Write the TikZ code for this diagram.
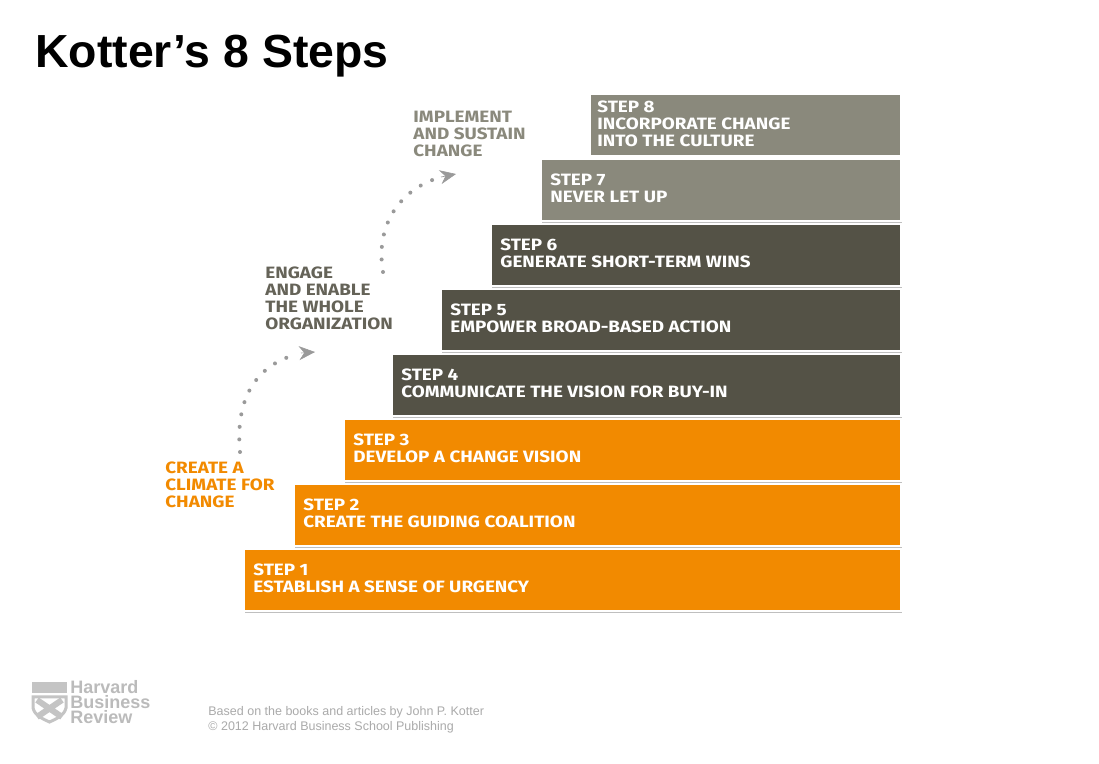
\documentclass[tikz,border=0pt]{standalone}
\usepackage{fontspec}
\setmainfont{Liberation Sans}
\newfontfamily\barfont[FakeStretch=1.15]{Fira Sans}
\usetikzlibrary{arrows.meta,positioning}
\definecolor{hbrorange}{HTML}{F28A00}
\definecolor{hbrdark}{HTML}{545246}
\definecolor{hbrlight}{HTML}{8A897C}
\definecolor{hbrdot}{HTML}{9A9A9A}
\definecolor{hbrfoot}{HTML}{AAAAAA}
\tikzset{
  stepbar/.style={draw=white,line width=1pt,anchor=north west,inner sep=0pt,
    minimum height=31pt},
  steptext/.style={anchor=north west,text=white,align=left,inner sep=0pt,
    font=\barfont\bfseries\fontsize{8.2}{8.5}\selectfont},
  phase/.style={anchor=north west,align=left,inner sep=0pt,
    font=\barfont\bfseries\fontsize{8.2}{8.5}\selectfont},
  dotpath/.style={hbrdot,line width=2pt,dash pattern=on 0pt off 6.3pt,line cap=round},
  dottip/.style={-{Stealth[length=8pt,width=7pt,fill=hbrdot]},hbrdot,line width=0.3pt}
}
\begin{document}
\begin{tikzpicture}[x=0.5pt,y=-0.5pt]
  \useasboundingbox[fill=white] (0,0) rectangle (1099,764);
  % % ----- title ----- % %
  \node[anchor=base west,inner sep=0pt,font=\bfseries\fontsize{23.2}{26}\selectfont] (title) at (35,68) {Kotter’s 8 Steps};
  % % ----- bars ----- % %
  \foreach \n/\xl/\yt/\col/\txt in {
      1/243/548/hbrorange/ESTABLISH A SENSE OF URGENCY,
      2/293/483/hbrorange/CREATE THE GUIDING COALITION,
      3/343/418/hbrorange/DEVELOP A CHANGE VISION,
      4/391/353/hbrdark/COMMUNICATE THE VISION FOR BUY-IN,
      5/440/288/hbrdark/EMPOWER BROAD-BASED ACTION,
      6/490/223/hbrdark/GENERATE SHORT-TERM WINS,
      7/540/158/hbrlight/NEVER LET UP}{
    \fill[black!25] (\xl+2,\yt+2) rectangle (902,\yt+65);
    \node[stepbar,fill=\col,minimum width={(900-\xl)*0.5pt}] (bar\n) at (\xl,\yt) {};
    \node[steptext] (lbl\n) at (\xl+10,\yt+15) {STEP \n\\\txt};
  }
  \fill[black!25] (591,95) rectangle (902,157);
  \node[stepbar,fill=hbrlight,minimum width={311*0.5pt}] (bar8) at (589,93) {};
  \node[steptext] (lbl8) at (597,100) {STEP 8\\INCORPORATE CHANGE\\INTO THE CULTURE};
  % % ----- phases ----- % %
  \node[phase,text=hbrorange] (climate) at (165,461) {CREATE A\\CLIMATE FOR\\CHANGE};
  \node[phase,text=hbrdark!90] (engage) at (265,266) {ENGAGE\\AND ENABLE\\THE WHOLE\\ORGANIZATION};
  \node[phase,text=hbrlight] (implement) at (413,111) {IMPLEMENT\\AND SUSTAIN\\CHANGE};
  % % ----- dotted arrows ----- % %
  \coordinate (a1s) at (240,452);
  \coordinate (a1e) at (298,354);
  \coordinate (a2s) at (383,272);
  \coordinate (a2e) at (438,178);
  \draw[dotpath] (a1s) .. controls (235,400) and (255,365) .. (a1e);
  \draw[dottip] (a1e) ++(3,-1) -- ++(14,-1);
  \draw[dotpath] (a2s) .. controls (375,225) and (400,190) .. (a2e);
  \draw[dottip] (a2e) ++(3,-1) -- ++(15,-3);
  % % ----- logo ----- % %
  \fill[hbrfoot!70] (32,682) rectangle (67,693);
  \draw[hbrfoot!70,line width=1.5pt] (33,697) -- (66,697) -- (66,708) .. controls (64,716) and (56,719) .. (49.5,722)
    .. controls (43,719) and (35,716) .. (33,708) -- cycle;
  \draw[hbrfoot!70,line width=3pt] (37,700) -- (62,717) (62,700) -- (37,717);
  \node[anchor=north west,align=left,inner sep=0pt,text=hbrfoot!80,
    font=\bfseries\fontsize{9}{7.6}\selectfont] (logo) at (70,680) {Harvard\\Business\\Review};
  % % ----- footer ----- % %
  \node[anchor=north west,align=left,inner sep=0pt,text=hbrfoot,
    font=\fontsize{6.25}{7.4}\selectfont] (footer) at (208,706) {Based on the books and articles by John P. Kotter\\© 2012 Harvard Business School Publishing};
\end{tikzpicture}
\end{document}
